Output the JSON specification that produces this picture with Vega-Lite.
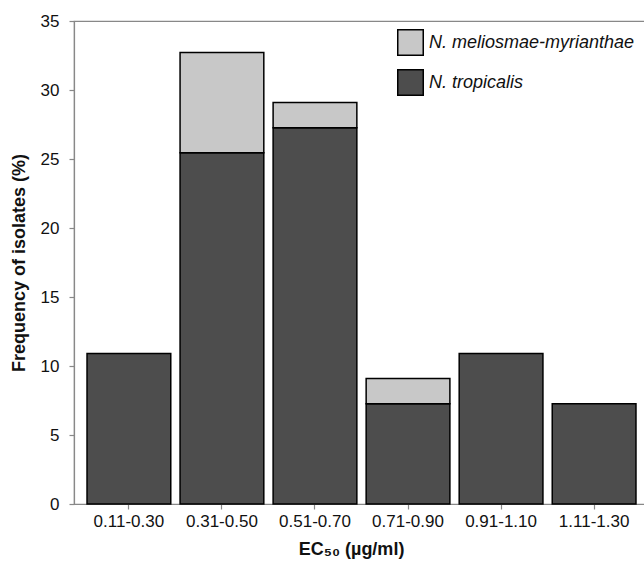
{
  "$schema": "https://vega.github.io/schema/vega-lite/v6.json",
  "autosize": "none",
  "padding": {"left": 74, "top": 21, "right": 0, "bottom": 57},
  "width": 575,
  "height": 483,
  "data": {
    "values": [
      {"range": "0.11-0.30", "species": "N. tropicalis", "value": 10.91, "rank": 1},
      {"range": "0.31-0.50", "species": "N. tropicalis", "value": 25.45, "rank": 1},
      {"range": "0.31-0.50", "species": "N. meliosmae-myrianthae", "value": 7.27, "rank": 2},
      {"range": "0.51-0.70", "species": "N. tropicalis", "value": 27.27, "rank": 1},
      {"range": "0.51-0.70", "species": "N. meliosmae-myrianthae", "value": 1.82, "rank": 2},
      {"range": "0.71-0.90", "species": "N. tropicalis", "value": 7.27, "rank": 1},
      {"range": "0.71-0.90", "species": "N. meliosmae-myrianthae", "value": 1.82, "rank": 2},
      {"range": "0.91-1.10", "species": "N. tropicalis", "value": 10.91, "rank": 1},
      {"range": "1.11-1.30", "species": "N. tropicalis", "value": 7.27, "rank": 1}
    ]
  },
  "mark": {"type": "bar", "stroke": "black", "strokeWidth": 1.5, "opacity": 1},
  "encoding": {
    "x": {
      "field": "range",
      "type": "nominal",
      "sort": null,
      "scale": {"paddingInner": 0.1, "paddingOuter": 0.14},
      "axis": {
        "title": "EC₅₀ (µg/ml)",
        "labelAngle": 0,
        "labelPadding": 4,
        "titlePadding": 11,
        "titleX": 277,
        "titleAnchor": "middle"
      }
    },
    "y": {
      "field": "value",
      "type": "quantitative",
      "stack": "zero",
      "scale": {"domain": [0, 35], "nice": false},
      "axis": {
        "title": "Frequency of isolates (%)",
        "values": [0, 5, 10, 15, 20, 25, 30, 35],
        "grid": false,
        "labelPadding": 10,
        "titlePadding": 12
      }
    },
    "color": {
      "field": "species",
      "type": "nominal",
      "scale": {
        "domain": ["N. meliosmae-myrianthae", "N. tropicalis"],
        "range": ["#c8c8c8", "#4d4d4d"]
      },
      "legend": {
        "title": null,
        "orient": "none",
        "legendX": 323,
        "legendY": 8,
        "padding": 0,
        "symbolType": "square",
        "symbolSize": 650,
        "symbolStrokeColor": "black",
        "symbolStrokeWidth": 1.5,
        "symbolOpacity": 1,
        "labelFontSize": 18,
        "labelFontStyle": "italic",
        "labelOffset": 5,
        "labelColor": "#111",
        "rowPadding": 7,
        "labelLimit": 400
      }
    },
    "order": {"field": "rank", "type": "quantitative", "sort": "ascending"}
  },
  "config": {
    "font": "Liberation Sans",
    "view": {"stroke": "#888", "strokeWidth": 1.2},
    "axis": {
      "domainColor": "#888",
      "domainWidth": 1.2,
      "tickColor": "#888",
      "tickSize": 5,
      "tickWidth": 1.2,
      "labelFontSize": 17,
      "labelColor": "#111",
      "titleFontSize": 18,
      "titleFontWeight": "bold",
      "titleColor": "#111",
      "grid": false
    }
  }
}
